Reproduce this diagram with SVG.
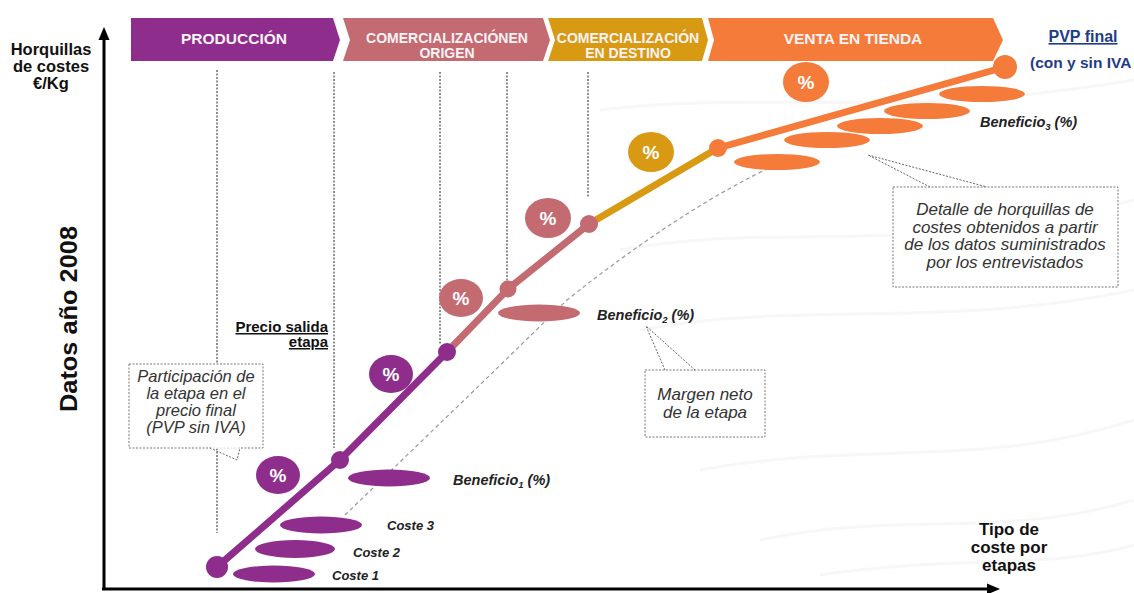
<svg xmlns="http://www.w3.org/2000/svg" width="1134" height="593" viewBox="0 0 1134 593">
  <style>
    .hdr { font-family: "Liberation Sans", Arial, sans-serif; font-weight: bold; fill: #fbf3f6; text-anchor: middle; }
    .axis-lbl { font-family: "Liberation Sans", Arial, sans-serif; font-weight: bold; fill: #111; text-anchor: middle; }
    .pct { font-family: "Liberation Sans", Arial, sans-serif; font-weight: bold; font-size: 19px; fill: #fff; text-anchor: middle; }
    .small { font-family: "Liberation Sans", Arial, sans-serif; font-weight: bold; font-style: italic; fill: #222; }
    .note { font-family: "Liberation Sans", Arial, sans-serif; font-style: italic; fill: #333; text-anchor: middle; }
    .guide { stroke: #222; stroke-width: 1; stroke-dasharray: 2 1.5; fill: none; }
    .box { fill: #fff; stroke: #777; stroke-width: 1; stroke-dasharray: 2 1.5; }
    .ptr { stroke: #666; stroke-width: 1; stroke-dasharray: 2 1.5; fill: none; }
    .seg { stroke-width: 7; fill: none; stroke-linecap: round; }
    .purple { fill: #8e2d8b; }
    .pink { fill: #c46a71; }
    .gold { fill: #d89a12; }
    .orange { fill: #f47b3a; }
  </style>

  <rect width="1134" height="593" fill="#fff"/>

  <!-- faint background streaks -->
  <g id="texture" fill="none" stroke="#f3f0f1" stroke-width="3" opacity="0.5">
    <path d="M600 110 C760 90 900 120 1134 80"/>
    <path d="M620 250 C780 220 920 260 1134 200"/>
    <path d="M640 330 C800 300 940 330 1134 290"/>
    <path d="M700 470 C860 440 980 470 1134 420"/>
    <path d="M760 540 C900 510 1000 540 1134 500"/>
    <path d="M820 575 C950 555 1050 570 1134 545"/>
  </g>

  <!-- stage header chevrons -->
  <g id="stage-produccion">
    <polygon class="purple" points="131,18 333,18 340,40 333,61 131,61"/>
    <text class="hdr" x="234" y="44" font-size="15.5">PRODUCCIÓN</text>
  </g>
  <g id="stage-origen">
    <polygon class="pink" points="343,18 543,18 550,40 543,61 343,61 350,40"/>
    <text class="hdr" x="447" y="43" font-size="14">COMERCIALIZACIÓNEN</text>
    <text class="hdr" x="447" y="58" font-size="14">ORIGEN</text>
  </g>
  <g id="stage-destino">
    <polygon class="gold" points="548,18 702,18 708,40 702,61 548,61 555,40"/>
    <text class="hdr" x="628" y="43" font-size="14">COMERCIALIZACIÓN</text>
    <text class="hdr" x="628" y="58" font-size="14">EN DESTINO</text>
  </g>
  <g id="stage-tienda">
    <polygon class="orange" points="708,18 993,18 1003,40 993,61 708,61 714,40"/>
    <text class="hdr" x="853" y="44" font-size="15.5">VENTA EN TIENDA</text>
  </g>

  <!-- final price label -->
  <g id="pvp-final" font-family="Liberation Sans, Arial, sans-serif" font-weight="bold" font-size="16" fill="#1f3c88">
    <text x="1083" y="42" text-anchor="middle" text-decoration="underline">PVP final</text>
    <text x="1030" y="68" font-size="15.5">(con y sin IVA</text>
  </g>

  <!-- axes -->
  <g id="axes">
    <line x1="104" y1="590" x2="104" y2="38" stroke="#000" stroke-width="3"/>
    <polygon points="104,27 98.5,40 109.5,40" fill="#000"/>
    <line x1="102" y1="589" x2="990" y2="589" stroke="#000" stroke-width="3"/>
    <polygon points="1000,589 987,583.5 987,594.5" fill="#000"/>
    <text class="axis-lbl" font-size="16.5" x="51" y="55">Horquillas</text>
    <text class="axis-lbl" font-size="16.5" x="51" y="72">de costes</text>
    <text class="axis-lbl" font-size="16.5" x="51" y="89">€/Kg</text>
    <text class="axis-lbl" font-size="24" transform="translate(77,319) rotate(-90)" textLength="186" lengthAdjust="spacingAndGlyphs">Datos año 2008</text>
    <text class="axis-lbl" font-size="17" x="1009" y="535">Tipo de</text>
    <text class="axis-lbl" font-size="17" x="1009" y="553">coste por</text>
    <text class="axis-lbl" font-size="17" x="1009" y="571">etapas</text>
  </g>

  <!-- stage boundary guides -->
  <g id="guides">
    <line class="guide" x1="217" y1="70" x2="217" y2="533"/>
    <line class="guide" x1="334" y1="72" x2="334" y2="448"/>
    <line class="guide" x1="440" y1="72" x2="440" y2="345"/>
    <line class="guide" x1="507" y1="72" x2="507" y2="282"/>
    <line class="guide" x1="588" y1="72" x2="588" y2="197"/>
  </g>

  <!-- net margin trend -->
  <path id="margin-trend" d="M345 515 L485 380 L567 300 Q680 210 775 165" fill="none" stroke="#999" stroke-width="1.2" stroke-dasharray="4 3"/>

  <!-- cost ellipses -->
  <g id="costs-produccion" class="purple">
    <ellipse cx="274" cy="574" rx="41" ry="8.5"/>
    <ellipse cx="295" cy="549" rx="40" ry="9"/>
    <ellipse cx="321" cy="525" rx="41" ry="8.5"/>
    <ellipse cx="389" cy="478" rx="41" ry="8.5"/>
  </g>
  <g id="costs-origen" class="pink">
    <ellipse cx="539" cy="313" rx="41" ry="8.5"/>
  </g>
  <g id="costs-tienda" class="orange">
    <ellipse cx="777" cy="162" rx="43" ry="8"/>
    <ellipse cx="827" cy="140" rx="43" ry="8"/>
    <ellipse cx="880" cy="126" rx="43" ry="8"/>
    <ellipse cx="927" cy="111" rx="43" ry="8"/>
    <ellipse cx="982" cy="94" rx="43" ry="8"/>
  </g>

  <!-- price build-up line -->
  <g id="connectors">
    <polyline class="seg" stroke="#8e2d8b" points="217,567 340,460 447,352"/>
    <polyline class="seg" stroke="#c46a71" points="447,352 508,289 589,224"/>
    <polyline class="seg" stroke="#d89a12" points="589,224 718,148"/>
    <polyline class="seg" stroke="#f47b3a" points="718,148 1005,67"/>
  </g>

  <!-- price nodes -->
  <g id="node-inicio"><circle class="purple" cx="217" cy="567" r="11"/></g>
  <g id="node-p1"><circle class="purple" cx="340" cy="460" r="9"/></g>
  <g id="node-p2"><circle class="purple" cx="447" cy="352" r="9"/></g>
  <g id="node-o1"><circle class="pink" cx="508" cy="289" r="8.5"/></g>
  <g id="node-o2"><circle class="pink" cx="589" cy="224" r="9"/></g>
  <g id="node-d1"><circle class="orange" cx="718" cy="148" r="9"/></g>
  <g id="node-fin"><circle class="orange" cx="1005" cy="67" r="12"/></g>

  <!-- percentage badges -->
  <g id="pct-1"><ellipse class="purple" cx="278" cy="475" rx="22" ry="19"/><text class="pct" x="278" y="482">%</text></g>
  <g id="pct-2"><ellipse class="purple" cx="391" cy="374" rx="22" ry="19"/><text class="pct" x="391" y="381">%</text></g>
  <g id="pct-3"><ellipse class="pink" cx="461" cy="298" rx="22" ry="19"/><text class="pct" x="461" y="305">%</text></g>
  <g id="pct-4"><ellipse class="pink" cx="548" cy="218" rx="23" ry="20"/><text class="pct" x="548" y="225">%</text></g>
  <g id="pct-5"><ellipse class="gold" cx="651" cy="152" rx="23" ry="20"/><text class="pct" x="651" y="159">%</text></g>
  <g id="pct-6"><ellipse class="orange" cx="806" cy="82" rx="23" ry="20"/><text class="pct" x="806" y="89">%</text></g>

  <!-- cost / profit labels -->
  <g id="labels">
    <text class="small" font-size="13" x="332" y="580">Coste 1</text>
    <text class="small" font-size="13" x="353" y="557">Coste 2</text>
    <text class="small" font-size="13" x="387" y="530">Coste 3</text>
    <text class="small" x="453" y="485" font-size="14.5">Beneficio<tspan font-size="9.5" dy="3">1</tspan><tspan dy="-3"> (%)</tspan></text>
    <text class="small" x="597" y="320" font-size="14.5">Beneficio<tspan font-size="9.5" dy="3">2</tspan><tspan dy="-3"> (%)</tspan></text>
    <text class="small" x="980" y="127" font-size="14.5">Beneficio<tspan font-size="9.5" dy="3">3</tspan><tspan dy="-3"> (%)</tspan></text>
  </g>

  <!-- stage exit price -->
  <g id="precio-salida" font-family="Liberation Sans, Arial, sans-serif" font-weight="bold" font-size="15" fill="#111" text-anchor="end" text-decoration="underline">
    <text x="328" y="332">Precio salida</text>
    <text x="328" y="347">etapa</text>
  </g>

  <!-- callout: share of final price -->
  <g id="callout-participacion">
    <rect class="box" x="129" y="364" width="134" height="84"/>
    <polyline class="ptr" points="210,448 237,460 240,448"/>
    <line x1="211" y1="448" x2="239" y2="448" stroke="#fff" stroke-width="1.5"/>
    <text class="note" font-size="16.5" x="196" y="382">Participación de</text>
    <text class="note" font-size="16.5" x="196" y="399">la etapa en el</text>
    <text class="note" font-size="16.5" x="196" y="416">precio final</text>
    <text class="note" font-size="16.5" x="196" y="433">(PVP sin IVA)</text>
  </g>

  <!-- callout: net margin -->
  <g id="callout-margen">
    <polyline class="ptr" points="665,370 646,326 695,370"/>
    <rect class="box" x="645" y="370" width="120" height="67"/>
    <text class="note" font-size="17" x="705" y="400">Margen neto</text>
    <text class="note" font-size="17" x="705" y="418">de la etapa</text>
  </g>

  <!-- callout: cost range detail -->
  <g id="callout-detalle">
    <polyline class="ptr" points="930,187 868,155 987,187"/>
    <rect class="box" x="893" y="187" width="225" height="100"/>
    <text class="note" font-size="17" x="1005" y="215">Detalle de horquillas de</text>
    <text class="note" font-size="17" x="1005" y="232.5">costes obtenidos a partir</text>
    <text class="note" font-size="17" x="1005" y="250">de los datos suministrados</text>
    <text class="note" font-size="17" x="1005" y="267.5">por los entrevistados</text>
  </g>
</svg>
